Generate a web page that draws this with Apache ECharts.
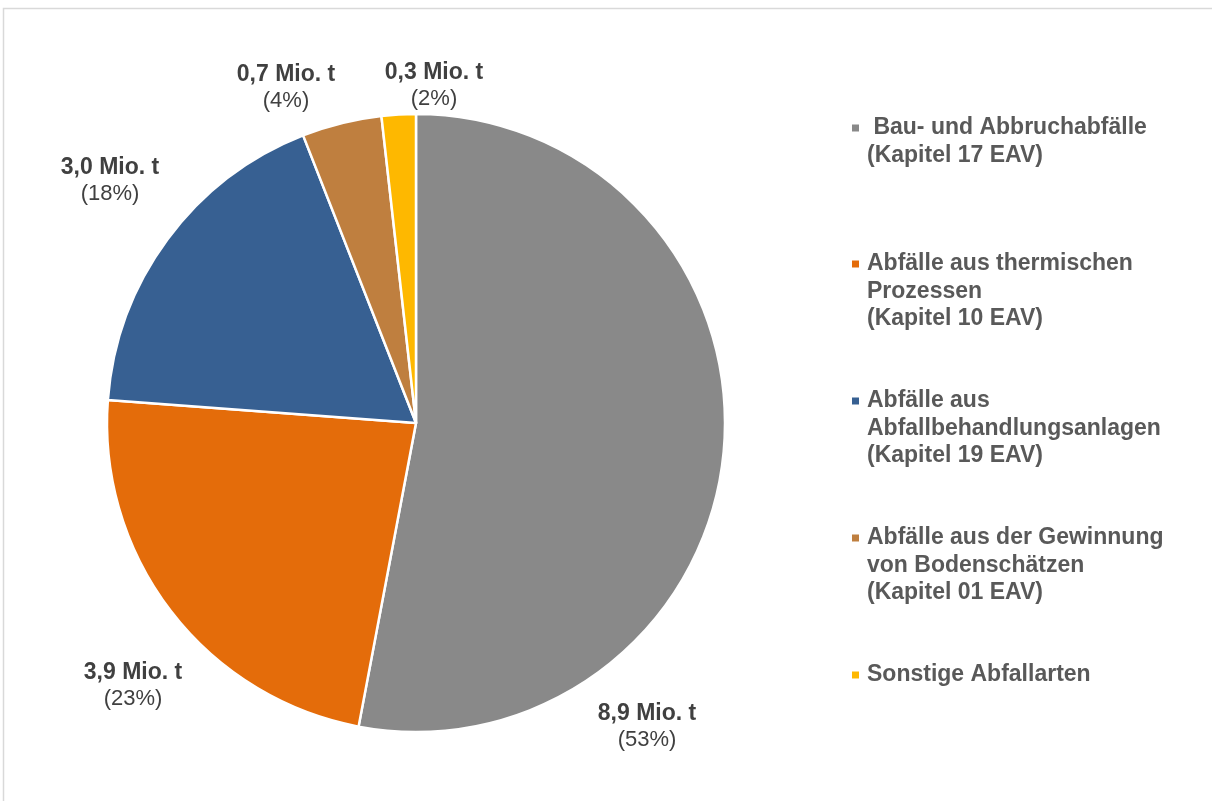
<!DOCTYPE html>
<html>
<head>
<meta charset="utf-8">
<script src="https://cdn.jsdelivr.net/npm/echarts@6/dist/echarts.min.js"></script>
<style>
  html, body { margin: 0; padding: 0; background: #ffffff; }
  #chart { width: 1212px; height: 801px; }
</style>
</head>
<body>
<div id="chart"></div>
<script>
// ---- data ----
const categories = [
  ' Bau- und Abbruchabfälle\n(Kapitel 17 EAV)',
  'Abfälle aus thermischen\nProzessen\n(Kapitel 10 EAV)',
  'Abfälle aus\nAbfallbehandlungsanlagen\n(Kapitel 19 EAV)',
  'Abfälle aus der Gewinnung\nvon Bodenschätzen\n(Kapitel 01 EAV)',
  'Sonstige Abfallarten'
];
const values = [8.9, 3.9, 3.0, 0.7, 0.3];          // Mio. t
const colors = ['#898989', '#E46C0A', '#376092', '#BF7F3F', '#FEB800'];

// ---- layout (styling only) ----
const labelCenters = [[647, 727], [133, 686], [110, 181], [286, 88], [434, 86]];
const legendFirstLineY = [128, 264, 401, 538, 675];
const LH = 27.5;

const font = '"Liberation Sans", Arial, sans-serif';

const legends = categories.map((name, i) => {
  const n = name.split('\n').length;
  return {
    data: [name],
    orient: 'vertical',
    left: 852,
    top: legendFirstLineY[i] - (2 * n - 1) * LH / 2,
    padding: 0,
    icon: 'rect',
    itemWidth: 7,
    itemHeight: 7,
    itemStyle: { borderWidth: 0 },
    selectedMode: false,
    formatter: nm => '\n'.repeat(n - 1) + nm,
    textStyle: {
      fontFamily: font,
      fontSize: 23,
      fontWeight: 'bold',
      color: '#595959',
      lineHeight: LH,
      padding: [0, 0, 0, 3]
    }
  };
});

const chart = echarts.init(document.getElementById('chart'), null, { renderer: 'canvas' });
chart.setOption({
  animation: false,
  backgroundColor: '#ffffff',
  color: colors,
  graphic: [{
    type: 'rect',
    shape: { x: 3.5, y: 8.5, width: 1300, height: 900 },
    style: { fill: 'none', stroke: '#d9d9d9', lineWidth: 1.5 },
    silent: true
  }],
  legend: legends,
  series: [{
    type: 'pie',
    center: [416, 423],
    radius: 309,
    startAngle: 90,
    clockwise: true,
    data: categories.map((c, i) => ({ name: c, value: values[i] })),
    itemStyle: { borderColor: '#ffffff', borderWidth: 2.5 },
    labelLine: { show: false },
    label: {
      show: true,
      position: 'outside',
      formatter: p => '{b|' + p.value.toFixed(1).replace('.', ',') + ' Mio. t}\n{n|(' + Math.round(p.percent) + '%)}',
      rich: {
        b: { fontFamily: font, fontSize: 23, fontWeight: 'bold', color: '#404040', lineHeight: 26, align: 'center' },
        n: { fontFamily: font, fontSize: 22, color: '#404040', lineHeight: 26, align: 'center' }
      }
    },
    labelLayout: p => ({
      x: labelCenters[p.dataIndex][0],
      y: labelCenters[p.dataIndex][1],
      align: 'center',
      verticalAlign: 'middle'
    })
  }]
});
</script>
</body>
</html>
